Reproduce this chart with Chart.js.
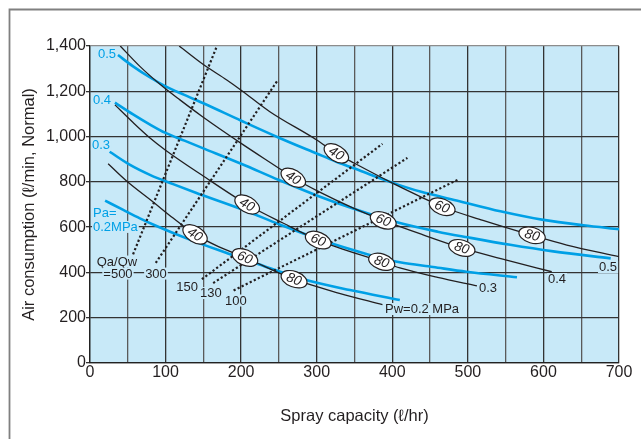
<!DOCTYPE html>
<html lang="en">
<head>
<meta charset="UTF-8">
<title>Air consumption vs spray capacity</title>
<script src="https://cdn.jsdelivr.net/npm/chart.js@4.4.1/dist/chart.umd.min.js"></script>
<style>
  html, body { margin: 0; padding: 0; background: #fff; }
  #wrap { width: 641px; height: 439px; }
</style>
</head>
<body>
<div id="wrap"><canvas id="chart" width="641" height="439"></canvas></div>
<script>
// ---- data: spray capacity (l/hr) -> air consumption (l/min, Normal) ----
const xTickLabels = ['0', '100', '200', '300', '400', '500', '600', '700'];
const yTickLabels = ['0', '200', '400', '600', '800', '1,000', '1,200', '1,400'];

// blue curves, constant air pressure Pa (MPa)
const paLevels = ['0.2', '0.3', '0.4', '0.5'];
const pa02X = [20, 44, 66, 88, 132, 180, 250, 291, 344, 410];
const pa02Y = [717, 676, 639, 605, 545, 487, 405, 362, 322, 278];
const pa03X = [26, 53, 80, 110, 140, 200, 251, 302, 350, 386, 410, 454, 498, 565];
const pa03Y = [933, 875, 830, 790, 752, 680, 612, 548, 497, 462, 445, 424, 403, 379];
const pa04X = [33, 57, 80, 100, 125, 150, 200, 250, 300, 350, 410, 460, 500, 556, 613, 689];
const pa04Y = [1150, 1098, 1052, 1016, 982, 948, 880, 808, 740, 680, 618, 580, 555, 522, 493, 462];
const pa05X = [37, 57, 79, 100, 124, 150, 200, 250, 300, 326, 357, 397, 437, 485, 543, 600, 653, 700];
const pa05Y = [1360, 1310, 1262, 1222, 1185, 1147, 1070, 995, 925, 889, 850, 800, 757, 718, 670, 632, 608, 591];

// black curves, constant water pressure Pw (MPa)
const pwLevels = ['0.2', '0.3', '0.4', '0.5'];
const pw02X = [24, 48, 84, 110, 139, 170, 205, 270, 330, 387];
const pw02Y = [880, 805, 710, 640, 568, 514, 466, 370, 308, 258];
const pw03X = [33, 57, 79, 100, 148, 208, 256, 302, 386, 410, 460, 512];
const pw03Y = [1140, 1062, 995, 940, 830, 700, 617, 543, 447, 420, 378, 341];
const pw04X = [40, 66, 93, 119, 148, 200, 251, 269, 302, 350, 388, 440, 492, 550, 611];
const pw04Y = [1400, 1310, 1230, 1162, 1090, 970, 858, 818, 758, 682, 630, 567, 508, 455, 403];
const pw05X = [118, 150, 181, 200, 238, 300, 326, 350, 397, 437, 466, 520, 584, 631, 700];
const pw05Y = [1400, 1318, 1250, 1205, 1110, 985, 926, 882, 800, 735, 690, 630, 565, 521, 470];

// dotted Qa/Qw lines (end points)
const ratioNames = ['500', '300', '150', '130', '100'];
const ratioX = [[57, 168], [87, 248], [148, 387], [163, 420], [190, 487]];
const ratioY = [[480, 1400], [442, 1247], [370, 968], [353, 906], [320, 810]];

// oval tags on the Pw curves (x where each one sits)
const tagText = ['40', '60', '80'];
const pw02Tags = [139, 205, 270];
const pw03Tags = [208, 302, 386];
const pw04Tags = [269, 388, 492];
const pw05Tags = [326, 466, 585];

// ---- styling ----
const FONT = "'Liberation Sans', Arial, Helvetica, sans-serif";
const PLOT_BG = '#c8e9f8';
const BLUE = '#00a0e6';
const INK = '#231f20';

Chart.defaults.font.family = FONT;
Chart.defaults.color = INK;

function pairs(xs, ys) {
  return xs.map((x, i) => ({ x: x, y: ys[i] }));
}

// y on a read curve at x (straight between read points)
function yAt(xs, ys, x) {
  for (let i = 1; i < xs.length; i++) {
    if (x <= xs[i]) {
      const t = (x - xs[i - 1]) / (xs[i] - xs[i - 1]);
      return ys[i - 1] + t * (ys[i] - ys[i - 1]);
    }
  }
  return ys[ys.length - 1];
}

const blueCurves = [[pa02X, pa02Y], [pa03X, pa03Y], [pa04X, pa04Y], [pa05X, pa05Y]];
const blackCurves = [[pw02X, pw02Y, pw02Tags], [pw03X, pw03Y, pw03Tags],
                     [pw04X, pw04Y, pw04Tags], [pw05X, pw05Y, pw05Tags]];

const datasets = [];
blueCurves.forEach((c, i) => {
  datasets.push({
    label: 'Pa ' + paLevels[i], data: pairs(c[0], c[1]), showLine: true,
    borderColor: BLUE, borderWidth: 2.6, pointRadius: 0,
    cubicInterpolationMode: 'monotone', order: 3
  });
});
blackCurves.forEach((c, i) => {
  datasets.push({
    label: 'Pw ' + pwLevels[i], data: pairs(c[0], c[1]), showLine: true,
    borderColor: INK, borderWidth: 1.3, pointRadius: 0,
    cubicInterpolationMode: 'monotone', order: 2
  });
});
ratioNames.forEach((n, i) => {
  datasets.push({
    label: 'Qa/Qw ' + n, data: pairs(ratioX[i], ratioY[i]), showLine: true,
    borderColor: INK, borderWidth: 2.2, borderDash: [2.2, 2.3], pointRadius: 0, order: 1
  });
});

// text notes: [text, x, y, colour, align]
const notes = [
  [paLevels[3], 10.6, 1365, BLUE, 'left'],
  [paLevels[2], 4, 1164, BLUE, 'left'],
  [paLevels[1], 2.6, 963, BLUE, 'left'],
  ['Pa=', 4, 663, BLUE, 'left'],
  [paLevels[0] + 'MPa', 4, 601, BLUE, 'left'],
  [pwLevels[3], 685.5, 424, INK, 'center'],
  [pwLevels[2], 618, 371, INK, 'center'],
  [pwLevels[1], 526.7, 331, INK, 'center'],
  ['Pw=' + pwLevels[0] + ' MPa', 390.4, 238.5, INK, 'left'],
  ['Qa/Qw', 35.7, 448, INK, 'center'],
  ['=' + ratioNames[0], 37, 395, INK, 'center'],
  [ratioNames[1], 87.3, 395, INK, 'center'],
  [ratioNames[2], 128.4, 336, INK, 'center'],
  [ratioNames[3], 160, 309, INK, 'center'],
  [ratioNames[4], 193, 276, INK, 'center']
];

const decor = {
  id: 'decor',
  beforeDraw(chart) {
    const { ctx, chartArea: a } = chart;
    ctx.save();
    ctx.fillStyle = '#fff';
    ctx.fillRect(0, 0, chart.width, chart.height);
    // frame
    ctx.strokeStyle = '#808080';
    ctx.lineWidth = 1.8;
    ctx.beginPath();
    ctx.moveTo(9.5, chart.height);
    ctx.lineTo(9.5, 9.5);
    ctx.lineTo(chart.width, 9.5);
    ctx.stroke();
    ctx.fillStyle = PLOT_BG;
    ctx.fillRect(a.left, a.top, a.right - a.left, a.bottom - a.top);
    ctx.restore();
  },
  beforeDatasetsDraw(chart) {
    const { ctx, scales: { x, y } } = chart;
    ctx.save();
    ctx.font = '13px ' + FONT;
    ctx.textBaseline = 'middle';
    notes.forEach(n => {
      const px = x.getPixelForValue(n[1]);
      const py = y.getPixelForValue(n[2]);
      const w = ctx.measureText(n[0]).width;
      const left = n[4] === 'left' ? px : px - w / 2;
      ctx.fillStyle = PLOT_BG;
      ctx.fillRect(left - 1, py - 6, w + 2, 12);
      ctx.fillStyle = n[3];
      ctx.textAlign = 'left';
      ctx.fillText(n[0], left, py + 0.5);
    });
    ctx.restore();
  },
  afterDatasetsDraw(chart) {
    const { ctx, scales: { x, y } } = chart;
    ctx.save();
    blackCurves.forEach(c => {
      c[2].forEach((tx, k) => {
        const px = x.getPixelForValue(tx);
        const py = y.getPixelForValue(yAt(c[0], c[1], tx));
        const x1 = x.getPixelForValue(tx - 10), y1 = y.getPixelForValue(yAt(c[0], c[1], tx - 10));
        const x2 = x.getPixelForValue(tx + 10), y2 = y.getPixelForValue(yAt(c[0], c[1], tx + 10));
        const ang = Math.atan2(y2 - y1, x2 - x1);
        ctx.save();
        ctx.translate(px, py);
        ctx.rotate(ang);
        ctx.beginPath();
        ctx.ellipse(0, 0, 13.5, 7.8, 0, 0, Math.PI * 2);
        ctx.fillStyle = '#fff';
        ctx.fill();
        ctx.lineWidth = 1.2;
        ctx.strokeStyle = INK;
        ctx.stroke();
        ctx.fillStyle = INK;
        ctx.font = 'italic 13.5px ' + FONT;
        ctx.textAlign = 'center';
        ctx.textBaseline = 'middle';
        ctx.fillText(tagText[k], 0, 0.5);
        ctx.restore();
      });
    });
    ctx.restore();
  }
};

new Chart(document.getElementById('chart'), {
  type: 'scatter',
  data: { datasets: datasets },
  options: {
    responsive: false,
    animation: false,
    layout: { padding: { top: 46, right: 22, left: 0, bottom: 0 } },
    plugins: { legend: { display: false }, tooltip: { enabled: false } },
    scales: {
      x: {
        type: 'linear', min: 0, max: 700,
        afterFit: s => { s.height = 76; },
        ticks: {
          stepSize: 50, autoSkip: false, maxRotation: 0, padding: 0,
          font: { size: 16 }, color: INK,
          callback: v => (v % 100 === 0 ? xTickLabels[v / 100] : '')
        },
        grid: {
          drawTicks: false, lineWidth: 1.3,
          color: c => (c.tick.value % 100 === 0 ? '#333333' : '#5a5a5a')
        },
        border: { color: '#222', width: 1.3 },
        title: {
          display: true, text: 'Spray capacity (ℓ/hr)', color: INK,
          font: { size: 16.5, lineHeight: 1.2 }, padding: { top: 0, bottom: 13 }
        }
      },
      y: {
        type: 'linear', min: 0, max: 1400,
        afterFit: s => { s.width = 90; },
        ticks: {
          stepSize: 200, padding: 0, font: { size: 16 }, color: INK,
          callback: v => yTickLabels[v / 200]
        },
        grid: {
          tickLength: 4, lineWidth: 1.3, tickColor: '#333',
          color: c => (c.tick.value === 1400 ? '#8c8c8c' : '#333333')
        },
        border: { color: '#222', width: 1.3 },
        title: {
          display: true, text: 'Air consumption (ℓ/min, Normal)', color: INK,
          font: { size: 16.5, lineHeight: 1.2 }, padding: { top: 20, bottom: 0 }
        }
      }
    }
  },
  plugins: [decor]
});
</script>
</body>
</html>
